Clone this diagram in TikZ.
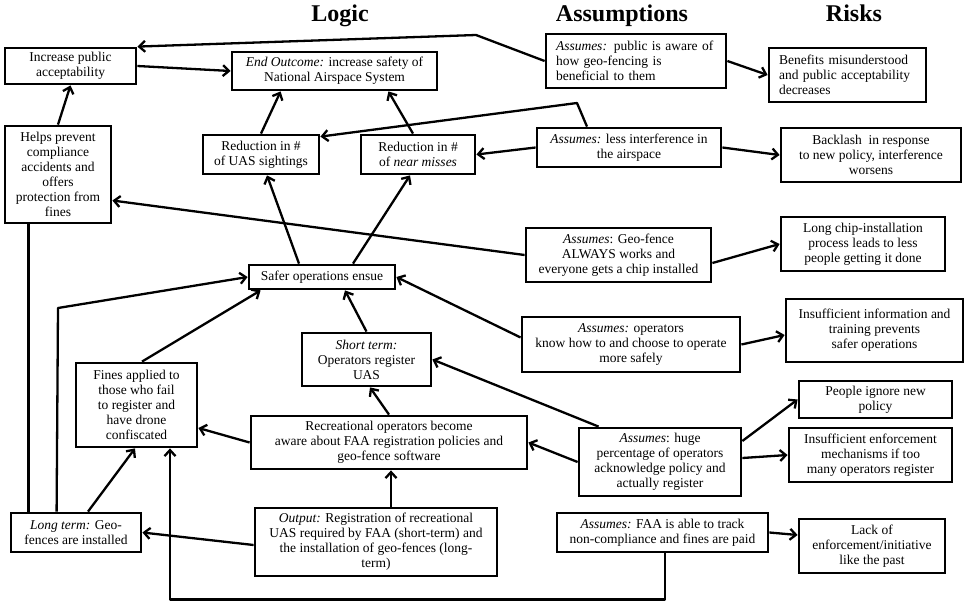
\documentclass[tikz,border=0pt]{standalone}
\usepackage{fontspec}
\setmainfont{Liberation Serif}
\usetikzlibrary{arrows.meta,positioning}

\begin{document}
\begin{tikzpicture}[
    x=1pt, y=-1pt,
    >={Straight Barb[length=6pt,width=11pt]},
    box/.style={rectangle, draw, line width=2.8pt, align=center, inner sep=2pt, font=\fontsize{13.5}{15}\selectfont},
    leftbox/.style={box, align=left, inner xsep=10pt},
    heading/.style={anchor=base, font=\fontsize{24}{27}\selectfont\bfseries},
    link/.style={draw, line width=2.3pt, ->, line join=round}
    ]
    \useasboundingbox (0,0) rectangle (964,602);

    % Column headings
    \node[heading] (hlogic) at (340,22) {Logic};
    \node[heading] (hassume) at (622,22) {Assumptions};
    \node[heading] (hrisk) at (854,22) {Risks};

    % Logic column
    \node[box, minimum width=131pt, minimum height=36pt] (incpub) at (70.5,66) {Increase public\\acceptability};
    \node[box, minimum width=205pt, minimum height=38pt] (endout) at (334.5,71) {\textit{End Outcome:} increase safety of\\National Airspace System};
    \node[box, minimum width=106pt, minimum height=97pt] (helps) at (58,174.5) {Helps prevent\\compliance\\accidents and\\offers\\protection from\\fines};
    \node[box, minimum width=116pt, minimum height=39pt] (reduas) at (261,154.5) {Reduction in \#\\of UAS sightings};
    \node[box, minimum width=114pt, minimum height=39pt, right=39.2pt of reduas] (rednm) {Reduction in \#\\of \textit{near misses}};
    \node[box, minimum width=146pt, minimum height=24pt] (safer) at (322,277) {Safer operations ensue};
    \node[box, minimum width=129pt, minimum height=53pt] (shortterm) at (366.5,359.5) {\textit{Short term:}\\Operators register\\UAS};
    \node[box, minimum width=121pt, minimum height=84pt] (fines) at (136.5,405) {Fines applied to\\those who fail\\to register and\\have drone\\confiscated};
    \node[box, minimum width=276pt, minimum height=53pt] (aware) at (389,442.5) {Recreational operators become\\aware about FAA registration policies and\\geo-fence software};
    \node[box, minimum width=130pt, minimum height=39pt] (longterm) at (76,532.5) {\textit{Long term:} Geo-\\fences are installed};
    \node[box, minimum width=242pt, minimum height=68pt] (output) at (376,542) {\textit{Output:} Registration of recreational\\UAS required by FAA (short-term) and\\the installation of geo-fences (long-\\term)};

    % Assumptions column
    \node[leftbox, text width=160pt, minimum height=54pt] (apublic) at (636,61) {\textit{Assumes:} public is aware of\\how geo-fencing is\\beneficial to them};
    \node[box, minimum width=184pt, minimum height=39pt] (aless) at (629,147.5) {\textit{Assumes:} less interference in\\the airspace};
    \node[box, minimum width=185pt, minimum height=54pt] (ageo) at (618.5,255) {\textit{Assumes}: Geo-fence\\ALWAYS works and\\everyone gets a chip installed};
    \node[box, minimum width=218pt, minimum height=55pt] (aops) at (631,344.5) {\textit{Assumes:} operators\\know how to and choose to operate\\more safely};
    \node[box, minimum width=162pt, minimum height=68pt] (ahuge) at (660,462) {\textit{Assumes}: huge\\percentage of operators\\acknowledge policy and\\actually register};
    \node[box, minimum width=211pt, minimum height=39pt] (afaa) at (662.5,532.5) {\textit{Assumes:} FAA is able to track\\non-compliance and fines are paid};

    % Risks column
    \node[leftbox, text width=137pt, minimum height=54pt] (rbenefit) at (847.5,75) {Benefits misunderstood\\and public acceptability\\decreases};
    \node[box, minimum width=180pt, minimum height=54pt] (rbacklash) at (871,155) {Backlash\ \ in response\\to new policy, interference\\worsens};
    \node[box, minimum width=164pt, minimum height=54pt] (rchip) at (863,244) {Long chip-installation\\process leads to less\\people getting it done};
    \node[box, minimum width=177pt, minimum height=63pt] (rinfo) at (874.5,330.5) {Insufficient information and\\training prevents\\safer operations};
    \node[box, minimum width=153pt, minimum height=37pt] (rignore) at (875.5,399.5) {People ignore new\\policy};
    \node[box, minimum width=163pt, minimum height=54pt, below left=7.2pt and -155.8pt of rignore] (renforce) {Insufficient enforcement\\mechanisms if too\\many operators register};
    \node[box, minimum width=146pt, minimum height=54pt] (rlack) at (872,546) {Lack of\\enforcement/initiative\\like the past};

    % Bend points
    \coordinate (bendpub) at (476,35);
    \coordinate (bendless) at (577,103);
    \coordinate (bendlong) at (58,308);

    % Upper part of the logic chain
    \draw[link] (apublic.west) -- (bendpub) -- (incpub.north east);
    \draw[link] (incpub.east) -- (endout.west);
    \draw[link] (helps.north) -- (incpub.south);
    \draw[link] (reduas.north) -- ([xshift=50pt]endout.south west);
    \draw[link] ([xshift=-5pt]rednm.north) -- ([xshift=-50pt]endout.south east);
    \draw[link] ([xshift=-42pt]aless.north) -- (bendless) -- ([yshift=-3pt]reduas.north east);
    \draw[link] (aless.west) -- (rednm.east);
    \draw[link] ([xshift=-23pt]safer.north) -- ([xshift=6pt]reduas.south);
    \draw[link] ([xshift=31pt]safer.north) -- ([xshift=-8pt]rednm.south);
    \draw[link] (ageo.west) -- ([yshift=-26pt]helps.east);
    \draw[link] ([yshift=7pt]aops.west) -- (safer.east);
    \draw[link] (shortterm.north) -- ([xshift=23pt]safer.south);

    % Lower part of the logic chain
    \draw[link] ([xshift=47pt]longterm.north west) -- (bendlong) -- (safer.west);
    \draw[line width=2.3pt] ([xshift=19pt]longterm.north west) coordinate (ltup) -- (ltup |- helps.south);
    \draw[link] ([xshift=12pt]longterm.north) -- ([xshift=-1.5pt]fines.south);
    \draw[link] ([xshift=5.5pt]fines.north) -- ([xshift=13pt]safer.south west);
    \draw[link] (aware.west) -- ([yshift=-23pt]fines.east);
    \draw[link] (aware.north) -- ([xshift=3.5pt]shortterm.south);
    \draw[link] ([xshift=15pt]output.north) -- ([xshift=2pt]aware.south);
    \draw[link] ([yshift=-3pt]output.west) -- (longterm.east);
    \draw[link] ([xshift=21pt]ahuge.north west) -- (shortterm.east);
    \draw[link] (ahuge.west) -- (aware.east);
    \draw[link] ([xshift=2.5pt]afaa.south) -- ++(0,46) -| ([xshift=33.5pt]fines.south);

    % Assumptions to risks
    \draw[link] (apublic.east) -- (rbenefit.west);
    \draw[link] (aless.east) -- (rbacklash.west);
    \draw[link] ([yshift=-8pt]ageo.east) -- (rchip.west);
    \draw[link] (aops.east) -- ([yshift=-4.5pt]rinfo.west);
    \draw[link] ([yshift=21pt]ahuge.east) -- (rignore.west);
    \draw[link] ([yshift=4pt]ahuge.east) -- (renforce.west);
    \draw[link] (afaa.east) -- ([yshift=11pt]rlack.west);

\end{tikzpicture}
\end{document}
